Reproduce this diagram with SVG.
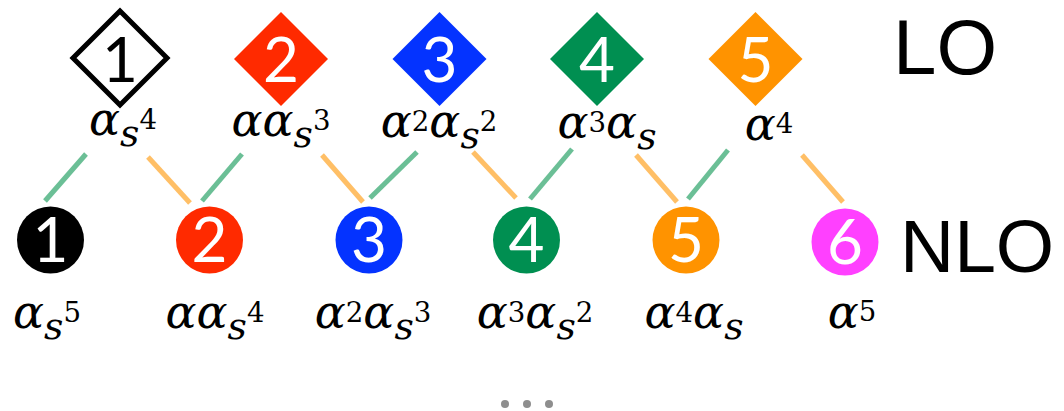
<svg xmlns="http://www.w3.org/2000/svg" width="1064" height="411" viewBox="0 0 1064 411">
<style>
.num{font-family:Lato,"Open Sans","Liberation Sans",sans-serif;font-size:62px;fill:#fff;text-anchor:middle}
.big{font-family:"Liberation Sans",Arial,sans-serif;font-size:78px;fill:#000}
.m{font-family:'DejaVu Serif',serif;font-style:italic;font-size:46px;fill:#000;text-anchor:middle}
.sb{font-size:0.82em}
.sp{font-size:0.6em;font-style:normal}
.g{stroke:#6bbf96;stroke-width:5;fill:none}
.o{stroke:#ffbf66;stroke-width:5;fill:none}
</style>
<rect width="1064" height="411" fill="#fff"/>
<g id="connectors">
<line class="g" x1="86" y1="154" x2="45" y2="201"/>
<line class="o" x1="148" y1="157" x2="190" y2="203"/>
<line class="g" x1="242" y1="154" x2="202" y2="201"/>
<line class="o" x1="322" y1="155" x2="363" y2="202"/>
<line class="g" x1="417" y1="152" x2="370" y2="198"/>
<line class="o" x1="473" y1="152" x2="516" y2="198"/>
<line class="g" x1="572" y1="149" x2="530" y2="199"/>
<line class="o" x1="636" y1="155" x2="677" y2="202"/>
<line class="g" x1="728" y1="150" x2="688" y2="199"/>
<line class="o" x1="802" y1="155" x2="843" y2="202"/>
</g>
<g id="lo1">
<polygon points="120,11 167,58 120,105 73,58" fill="#fff" stroke="#000" stroke-width="5"/>
<text class="num" x="120" y="82" style="fill:#000">1</text>
<text class="m" x="123" y="135">α<tspan class="sb" dy="11">s</tspan><tspan class="sp" dy="-17">4</tspan></text>
</g>
<g id="lo2">
<polygon points="281,12 328,59 281,106 234,59" fill="#ff2a00"/>
<text class="num" x="281" y="82">2</text>
<text class="m" x="281" y="136">αα<tspan class="sb" dy="11">s</tspan><tspan class="sp" dy="-17">3</tspan></text>
</g>
<g id="lo3">
<polygon points="439.5,12 486.5,59 439.5,106 392.5,59" fill="#0433ff"/>
<text class="num" x="439.5" y="82">3</text>
<text class="m" x="439" y="137">α<tspan class="sp" dy="-6">2</tspan><tspan dy="6">α</tspan><tspan class="sb" dy="11">s</tspan><tspan class="sp" dy="-17">2</tspan></text>
</g>
<g id="lo4">
<polygon points="597,12 644,59 597,106 550,59" fill="#008f51"/>
<text class="num" x="597" y="82">4</text>
<text class="m" x="607" y="138">α<tspan class="sp" dy="-6">3</tspan><tspan dy="6">α</tspan><tspan class="sb" dy="11">s</tspan></text>
</g>
<g id="lo5">
<polygon points="755.5,12 802.5,59 755.5,106 708.5,59" fill="#ff9300"/>
<text class="num" x="755.5" y="82">5</text>
<text class="m" x="769" y="140">α<tspan class="sp" dy="-7">4</tspan></text>
</g>
<g id="nlo1">
<circle cx="50.5" cy="240" r="33.5" fill="#000"/>
<text class="num" x="50.5" y="262">1</text>
<text class="m" x="47" y="328">α<tspan class="sb" dy="11">s</tspan><tspan class="sp" dy="-17">5</tspan></text>
</g>
<g id="nlo2">
<circle cx="209.5" cy="240" r="33.5" fill="#ff2a00"/>
<text class="num" x="209.5" y="262">2</text>
<text class="m" x="215" y="328">αα<tspan class="sb" dy="11">s</tspan><tspan class="sp" dy="-17">4</tspan></text>
</g>
<g id="nlo3">
<circle cx="369" cy="240" r="33.5" fill="#0433ff"/>
<text class="num" x="369" y="262">3</text>
<text class="m" x="373" y="328">α<tspan class="sp" dy="-6">2</tspan><tspan dy="6">α</tspan><tspan class="sb" dy="11">s</tspan><tspan class="sp" dy="-17">3</tspan></text>
</g>
<g id="nlo4">
<circle cx="526.5" cy="240" r="33.5" fill="#008f51"/>
<text class="num" x="526.5" y="262">4</text>
<text class="m" x="535" y="328">α<tspan class="sp" dy="-6">3</tspan><tspan dy="6">α</tspan><tspan class="sb" dy="11">s</tspan><tspan class="sp" dy="-17">2</tspan></text>
</g>
<g id="nlo5">
<circle cx="686" cy="240" r="33.5" fill="#ff9300"/>
<text class="num" x="686" y="262">5</text>
<text class="m" x="694" y="328">α<tspan class="sp" dy="-6">4</tspan><tspan dy="6">α</tspan><tspan class="sb" dy="11">s</tspan></text>
</g>
<g id="nlo6">
<circle cx="845" cy="242" r="33.5" fill="#ff40ff"/>
<text class="num" x="845" y="264">6</text>
<text class="m" x="852" y="328">α<tspan class="sp" dy="-7">5</tspan></text>
</g>
<g id="labels">
<text class="big" x="893" y="74">LO</text>
<text class="big" x="900" y="272" style="font-size:75px">NLO</text>
</g>
<g id="ellipsis" fill="#8e8e8e">
<circle cx="505" cy="404" r="4"/>
<circle cx="527" cy="404" r="4"/>
<circle cx="549" cy="404" r="4"/>
</g>
</svg>
